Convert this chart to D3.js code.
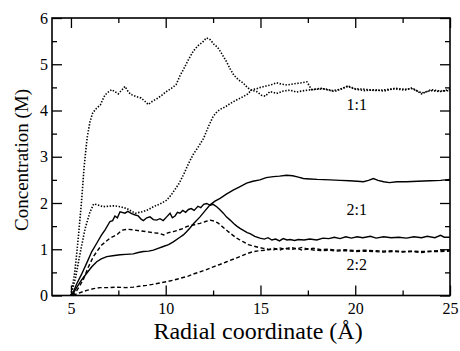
<!DOCTYPE html>
<html><head><meta charset="utf-8">
<script src="https://cdn.jsdelivr.net/npm/d3@7"></script>
<style>
html,body{margin:0;padding:0;background:#fff;}
svg{display:block;}
</style></head>
<body><svg id="c" width="460" height="351"></svg>
<script>
// 1:1 (dotted)
const s11a = [[5.0,0],[5.2,0.5],[5.4,1.3],[5.55,2.0],[5.7,2.8],[5.85,3.4],[6.0,3.75],[6.15,3.95],[6.35,4.05],[6.55,4.12],[6.75,4.3],[6.9,4.38],[7.15,4.45],[7.35,4.4],[7.5,4.36],[7.7,4.45],[7.85,4.52],[8.0,4.42],[8.15,4.35],[8.45,4.3],[8.7,4.27],[8.9,4.2],[9.08,4.13],[9.3,4.2],[9.55,4.26],[9.8,4.33],[10.0,4.4],[10.3,4.48],[10.55,4.56],[10.75,4.75],[10.95,4.9],[11.2,5.1],[11.45,5.28],[11.7,5.4],[11.95,5.48],[12.15,5.57],[12.35,5.53],[12.55,5.43],[12.75,5.36],[13.0,5.2],[13.2,5.06],[13.4,4.9],[13.6,4.76],[13.85,4.66],[14.1,4.59],[14.3,4.5],[14.5,4.44],[14.8,4.41],[15.05,4.33],[15.25,4.31],[15.5,4.41],[15.85,4.37],[16.2,4.42],[16.55,4.44],[16.9,4.4],[17.3,4.43],[17.7,4.45],[18.2,4.48],[18.6,4.44],[18.9,4.41],[19.3,4.47],[19.6,4.52],[20.0,4.46],[20.5,4.43],[21.0,4.45],[21.5,4.42],[22.1,4.48],[22.6,4.46],[23.0,4.47],[23.5,4.38],[24.0,4.43],[24.5,4.41],[25.0,4.46]];
const s11b = [[5.0,0],[5.25,0.4],[5.5,0.95],[5.75,1.45],[6.0,1.8],[6.2,1.98],[6.4,1.96],[6.7,1.92],[7.0,1.93],[7.25,1.94],[7.6,1.92],[7.95,1.88],[8.2,1.82],[8.4,1.78],[8.65,1.8],[8.85,1.82],[9.1,1.86],[9.35,1.92],[9.7,1.98],[10.05,2.06],[10.3,2.18],[10.5,2.3],[10.7,2.42],[10.95,2.62],[11.2,2.85],[11.45,3.05],[11.7,3.2],[12.0,3.4],[12.25,3.65],[12.5,3.87],[12.7,3.97],[12.9,4.03],[13.15,4.08],[13.4,4.15],[13.7,4.22],[14.0,4.28],[14.3,4.35],[14.55,4.45],[14.8,4.47],[15.0,4.5],[15.3,4.53],[15.6,4.56],[15.85,4.6],[16.1,4.57],[16.4,4.55],[16.8,4.58],[17.2,4.6],[17.45,4.62],[17.7,4.45],[18.0,4.46],[18.4,4.47],[18.8,4.43],[19.2,4.46],[19.6,4.53],[20.0,4.47],[20.5,4.46],[21.0,4.43],[21.6,4.45],[22.1,4.47],[22.6,4.44],[23.0,4.49],[23.5,4.36],[24.0,4.45],[24.5,4.42],[25.0,4.43]];
// 2:1 (solid)
const s21a = [[5.05,0],[5.3,0.25],[5.55,0.45],[5.83,0.7],[6.1,0.95],[6.36,1.13],[6.6,1.3],[6.8,1.42],[7.06,1.6],[7.2,1.62],[7.32,1.72],[7.45,1.68],[7.59,1.81],[7.85,1.78],[8.0,1.82],[8.2,1.77],[8.4,1.74],[8.55,1.72],[8.7,1.65],[8.82,1.62],[9.0,1.68],[9.17,1.7],[9.35,1.64],[9.52,1.63],[9.7,1.66],[9.87,1.62],[10.05,1.7],[10.23,1.78],[10.35,1.68],[10.49,1.72],[10.62,1.8],[10.75,1.78],[10.9,1.84],[11.05,1.8],[11.2,1.86],[11.35,1.88],[11.5,1.84],[11.7,1.93],[11.85,1.9],[12.0,1.97],[12.16,1.99],[12.35,1.95],[12.5,1.97],[12.69,1.92],[12.85,1.86],[13.04,1.78],[13.2,1.7],[13.4,1.63],[13.6,1.55],[13.75,1.5],[13.92,1.45],[14.1,1.41],[14.3,1.36],[14.45,1.34],[14.7,1.28],[14.97,1.24],[15.2,1.22],[15.4,1.25],[15.6,1.2],[15.8,1.22],[16.0,1.18],[16.2,1.23],[16.4,1.2],[16.56,1.21],[16.8,1.19],[17.0,1.21],[17.3,1.2],[17.6,1.22],[17.97,1.2],[18.3,1.24],[18.6,1.23],[18.9,1.26],[19.2,1.23],[19.5,1.27],[19.8,1.24],[20.1,1.27],[20.4,1.25],[20.8,1.28],[21.1,1.24],[21.5,1.27],[21.9,1.25],[22.3,1.26],[22.7,1.24],[23.1,1.27],[23.5,1.25],[23.8,1.28],[24.2,1.25],[24.5,1.3],[24.7,1.26],[25.0,1.26]];
const s21b = [[5.05,0],[5.3,0.17],[5.55,0.33],[5.83,0.48],[6.1,0.62],[6.36,0.73],[6.6,0.79],[6.89,0.84],[7.2,0.86],[7.59,0.88],[7.9,0.89],[8.29,0.9],[8.55,0.93],[8.82,0.95],[9.1,0.96],[9.35,0.98],[9.6,1.02],[9.87,1.06],[10.15,1.1],[10.4,1.16],[10.75,1.26],[10.93,1.31],[11.1,1.38],[11.28,1.46],[11.5,1.57],[11.81,1.7],[12.05,1.82],[12.34,1.96],[12.6,2.04],[12.87,2.1],[13.2,2.19],[13.56,2.28],[13.9,2.35],[14.27,2.43],[14.6,2.47],[14.97,2.5],[15.3,2.55],[15.68,2.57],[16.0,2.58],[16.38,2.6],[16.7,2.59],[17.0,2.56],[17.26,2.53],[17.6,2.52],[18.0,2.51],[18.67,2.5],[19.2,2.49],[19.7,2.48],[20.1,2.47],[20.43,2.46],[20.7,2.49],[20.96,2.53],[21.2,2.49],[21.5,2.46],[21.8,2.44],[22.2,2.46],[22.7,2.46],[23.3,2.47],[23.95,2.48],[24.5,2.49],[25.0,2.51]];
// 2:2 (dashed)
const s22a = [[5.05,0],[5.3,0.1],[5.65,0.34],[5.9,0.6],[6.18,0.84],[6.4,0.97],[6.62,1.09],[6.85,1.17],[7.06,1.24],[7.41,1.31],[7.6,1.38],[7.76,1.42],[8.0,1.43],[8.29,1.42],[8.6,1.4],[8.99,1.38],[9.3,1.36],[9.7,1.34],[9.9,1.31],[10.15,1.36],[10.4,1.38],[10.7,1.42],[10.93,1.45],[11.1,1.49],[11.4,1.52],[11.81,1.56],[12.1,1.6],[12.34,1.63],[12.55,1.61],[12.75,1.57],[12.9,1.52],[13.1,1.45],[13.3,1.38],[13.55,1.3],[13.75,1.24],[13.92,1.2],[14.1,1.16],[14.36,1.1],[14.63,1.07],[14.9,1.04],[15.15,1.02],[15.4,1.0],[15.7,0.99],[16.0,1.03],[16.3,1.0],[16.6,1.04],[16.9,1.01],[17.2,1.04],[17.5,1.0],[17.8,1.02],[18.2,0.99],[18.6,1.0],[19.0,0.98],[19.5,0.99],[20.0,0.97],[20.5,0.98],[21.0,0.97],[21.5,0.96],[22.0,0.97],[22.5,0.95],[23.0,0.96],[23.5,0.95],[24.0,0.96],[24.5,0.97],[25.0,0.98]];
const s22b = [[5.1,0],[5.4,0.05],[5.83,0.11],[6.2,0.15],[6.53,0.17],[7.0,0.17],[7.41,0.18],[7.9,0.17],[8.29,0.18],[8.6,0.2],[8.99,0.22],[9.3,0.24],[9.7,0.27],[10.05,0.3],[10.4,0.33],[10.75,0.37],[11.19,0.42],[11.5,0.47],[11.81,0.51],[12.15,0.56],[12.51,0.62],[12.85,0.67],[13.22,0.73],[13.6,0.79],[13.92,0.84],[14.25,0.9],[14.63,0.95],[15.0,0.97],[15.32,0.98],[15.7,1.02],[16.0,0.98],[16.3,1.03],[16.6,0.99],[16.9,1.02],[17.2,0.98],[17.5,1.01],[17.8,0.98],[18.2,0.97],[18.6,0.98],[19.0,0.96],[19.5,0.97],[20.0,0.95],[20.5,0.96],[21.0,0.95],[21.5,0.94],[22.0,0.95],[22.5,0.94],[23.0,0.95],[23.5,0.93],[24.0,0.95],[24.5,0.95],[25.0,0.96]];

const groupLabels = ["1:1","2:1","2:2"];
const labelPos = [[20.08,4.02],[20.08,1.74],[20.08,0.55]];
const xMajor = [5,10,15,20,25];
const xMinor = [7.5,12.5,17.5,22.5];
const yMajor = [0,1,2,3,4,5,6];
const yMinor = [0.5,1.5,2.5,3.5,4.5,5.5];

const W=460,H=351, L=52, R=450, T=18, B=295.5;
const FONT = "Liberation Serif, Tinos, Times New Roman, Times, Noto Serif, DejaVu Serif, serif";
const svg = d3.select("#c");
const x = d3.scaleLinear().domain([4,25]).range([L,R]);
const y = d3.scaleLinear().domain([0,6]).range([B,T]);

const line = d3.line().x(d=>x(d[0])).y(d=>y(d[1]));
const styles = [
  [s11a,"1.4,1.6"],[s11b,"1.4,1.6"],
  [s21a,null],[s21b,null],
  [s22a,"4,2.5"],[s22b,"4,2.5"]
];
svg.append("g").selectAll("path").data(styles).join("path")
  .attr("d",d=>line(d[0])).attr("fill","none").attr("stroke","#000")
  .attr("stroke-width",d=>d[1]==="1.4,1.6"?1.6:1.4)
  .attr("stroke-dasharray",d=>d[1]);

// axes with inward ticks
function ax(gen, tr){ return svg.append("g").attr("transform",tr).call(gen); }
ax(d3.axisBottom(x).tickValues(xMajor).tickSize(-10).tickPadding(7).tickFormat(d3.format("d")), `translate(0,${B})`);
ax(d3.axisBottom(x).tickValues(xMinor).tickSize(-5).tickFormat(""), `translate(0,${B})`);
ax(d3.axisTop(x).tickValues(xMajor).tickSize(-10).tickFormat(""), `translate(0,${T})`);
ax(d3.axisTop(x).tickValues(xMinor).tickSize(-5).tickFormat(""), `translate(0,${T})`);
ax(d3.axisLeft(y).tickValues(yMajor).tickSize(-10).tickPadding(4).tickFormat(d3.format("d")), `translate(${L},0)`);
ax(d3.axisLeft(y).tickValues(yMinor).tickSize(-5).tickFormat(""), `translate(${L},0)`);
ax(d3.axisRight(y).tickValues(yMajor).tickSize(-10).tickFormat(""), `translate(${R},0)`);
ax(d3.axisRight(y).tickValues(yMinor).tickSize(-5).tickFormat(""), `translate(${R},0)`);
svg.selectAll(".domain").remove();
svg.selectAll("g").attr("font-family",null);
svg.selectAll(".tick line").attr("stroke","#000").attr("stroke-width",1.3);
svg.selectAll(".tick text").style("font-family",FONT).attr("font-size","16px").attr("fill","#000");
svg.append("rect").attr("x",L).attr("y",T).attr("width",R-L).attr("height",B-T)
  .attr("fill","none").attr("stroke","#000").attr("stroke-width",1.6);

// series labels
svg.append("g").selectAll("text").data(groupLabels).join("text")
  .attr("x",(d,i)=>x(labelPos[i][0])).attr("y",(d,i)=>y(labelPos[i][1]))
  .attr("text-anchor","middle").style("font-family",FONT).attr("font-size","16px").attr("fill","#000").text(d=>d);

// axis titles
svg.append("text").attr("x",258).attr("y",339).attr("text-anchor","middle")
  .style("font-family",FONT).attr("font-size","24px").attr("fill","#000").text("Radial coordinate (Å)");
svg.append("text").attr("transform",`translate(28,160) rotate(-90)`).attr("text-anchor","middle")
  .style("font-family",FONT).attr("font-size","19px").attr("fill","#000").text("Concentration (M)");
</script></body></html>
